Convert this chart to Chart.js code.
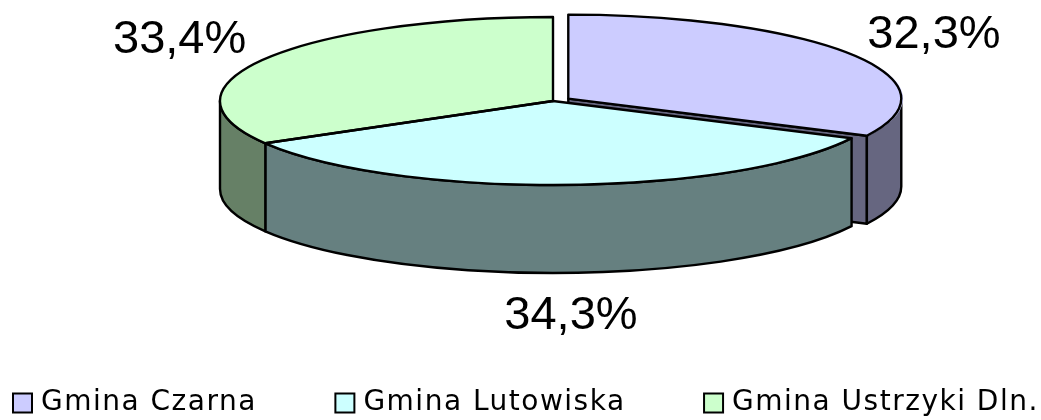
<!DOCTYPE html>
<html>
<head>
<meta charset="utf-8">
<title>Gminy</title>
<script src="https://cdn.jsdelivr.net/npm/chart.js@4"></script>
<style>
	html, body { margin: 0; padding: 0; background: #fff; }
	canvas { display: block; }
</style>
</head>
<body>
<canvas id="chart" width="1041" height="420"></canvas>
<script>
const categories = ['Gmina Czarna', 'Gmina Lutowiska', 'Gmina Ustrzyki Dln.'];
const shares = [32.3, 34.3, 33.4];
const shareLabels = ['32,3%', '34,3%', '33,4%'];
const topColors = ['#ccccff', '#ccffff', '#ccffcc'];
const wallColors = ['#666680', '#668080', '#668066'];

// how the flat pie is tilted on the page
const pie = { x: 553, y: 101, radius: 333, squash: 84 / 333, depth: 88 };
const labelReach = 1.3;
const labelShiftX = [-2, 3, 2];
const labelShiftY = [-6, 106, -7];
const legendGap = 78.5;
const legendLeft = 13;
const legendTop = 310.5;
const legendSpacing = '1.5px';
const legendSwatch = { width: 19, height: 19 };
const strokeWidth = 2.4;

const rim = (arc) => {
	const mid = (arc.startAngle + arc.endAngle) / 2;
	const push = (arc.options.offset || 0) / 4;
	return {
		x: pie.x + Math.cos(mid) * push,
		y: pie.y + Math.sin(mid) * push * pie.squash,
		mid,
	};
};

const tiltPlugin = {
	id: 'tilt',
	beforeLayout(chart) {
		chart.ctx.letterSpacing = legendSpacing;
		// the legend gaps are wider than the row check allows, so give it more room
		const legend = chart.legend;
		if (!legend._wide) {
			const update = legend.update;
			legend.update = function (w, h, margins) {
				update.call(this, 1300, h, margins);
			};
			legend._wide = true;
		}
	},
	afterLayout(chart) {
		const legend = chart.legend;
		legend.left = legendLeft - legendGap;
		legend.right = legend.left + 1300;
		legend.top = legendTop;
		legend.bottom = legendTop + legend.height;
	},
	beforeDraw(chart) {
		chart.ctx.letterSpacing = legendSpacing;
	},
	beforeDatasetsDraw(chart) {
		const ctx = chart.ctx;
		const arcs = chart.getDatasetMeta(0).data;
		ctx.save();
		ctx.lineWidth = strokeWidth;
		ctx.lineJoin = 'round';
		ctx.strokeStyle = '#000';

		// cut face of the pulled out slice, seen through the gap
		arcs.forEach((arc, i) => {
			if (!arc.options.offset) return;
			const c = rim(arc);
			const ex = c.x + Math.cos(arc.endAngle) * pie.radius;
			const ey = c.y + Math.sin(arc.endAngle) * pie.radius * pie.squash;
			ctx.beginPath();
			ctx.moveTo(c.x, c.y);
			ctx.lineTo(ex, ey);
			ctx.lineTo(ex, ey + pie.depth);
			ctx.lineTo(c.x, c.y + pie.depth);
			ctx.closePath();
			ctx.fillStyle = wallColors[i];
			ctx.fill();
			ctx.stroke();
		});

		// outer walls, only the front half of the rim shows
		arcs.forEach((arc, i) => {
			const from = Math.max(arc.startAngle, 0);
			const to = Math.min(arc.endAngle, Math.PI);
			if (to <= from) return;
			const c = rim(arc);
			const ry = pie.radius * pie.squash;
			ctx.beginPath();
			ctx.ellipse(c.x, c.y, pie.radius, ry, 0, from, to);
			ctx.ellipse(c.x, c.y + pie.depth, pie.radius, ry, 0, to, from, true);
			ctx.closePath();
			ctx.fillStyle = wallColors[i];
			ctx.fill();
			ctx.stroke();
		});
		ctx.restore();

		// the slices themselves are drawn by Chart.js inside this transform
		ctx.save();
		ctx.translate(pie.x, pie.y);
		ctx.scale(1, pie.squash);
		ctx.translate(-arcs[0].x, -arcs[0].y);
	},
	afterDatasetsDraw(chart) {
		const ctx = chart.ctx;
		ctx.restore();
		const arcs = chart.getDatasetMeta(0).data;
		ctx.save();
		ctx.lineWidth = strokeWidth;
		ctx.lineJoin = 'round';
		ctx.strokeStyle = '#000';
		arcs.forEach((arc) => {
			const c = rim(arc);
			ctx.beginPath();
			ctx.moveTo(c.x, c.y);
			ctx.ellipse(c.x, c.y, pie.radius, pie.radius * pie.squash, 0, arc.startAngle, arc.endAngle);
			ctx.closePath();
			ctx.stroke();
		});

		ctx.letterSpacing = '0px';
		ctx.font = '47px "Liberation Sans"';
		ctx.fillStyle = '#000';
		ctx.textAlign = 'center';
		ctx.textBaseline = 'middle';
		arcs.forEach((arc, i) => {
			const c = rim(arc);
			const lx = c.x + Math.cos(c.mid) * pie.radius * labelReach + labelShiftX[i];
			const ly = c.y + Math.sin(c.mid) * pie.radius * pie.squash * labelReach + labelShiftY[i];
			ctx.fillText(shareLabels[i], lx, ly);
		});
		ctx.restore();
	},
	afterDraw(chart) {
		// the legend keeps its text close to a narrow box, the swatch goes over it
		const ctx = chart.ctx;
		const legend = chart.legend;
		ctx.save();
		ctx.lineWidth = 2;
		ctx.strokeStyle = '#000';
		legend.legendHitBoxes.forEach((box, i) => {
			const y = box.top + (box.height - legendSwatch.height) / 2;
			ctx.fillStyle = legend.legendItems[i].fillStyle;
			ctx.fillRect(box.left, y, legendSwatch.width, legendSwatch.height);
			ctx.strokeRect(box.left, y, legendSwatch.width, legendSwatch.height);
		});
		ctx.restore();
	},
};

new Chart(document.getElementById('chart'), {
	type: 'pie',
	data: {
		labels: categories,
		datasets: [
			{
				data: shares,
				backgroundColor: topColors,
				borderWidth: 0,
				offset: [72, 0, 0],
				radius: pie.radius,
				clip: false,
			},
		],
	},
	options: {
		responsive: false,
		animation: false,
		plugins: {
			tooltip: { enabled: false },
			legend: {
				position: 'bottom',
				align: 'start',
				labels: {
					boxWidth: 14,
					boxHeight: 19,
					padding: legendGap,
					color: '#000',
					font: { family: '"DejaVu Sans"', size: 28 },
					generateLabels(chart) {
						return Chart.overrides.pie.plugins.legend.labels.generateLabels(chart).map((item) => ({
							...item,
							lineWidth: 0,
						}));
					},
				},
			},
		},
	},
	plugins: [tiltPlugin],
});
</script>
</body>
</html>
